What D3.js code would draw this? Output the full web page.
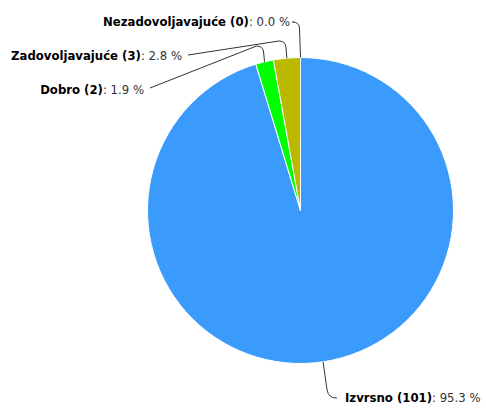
<!DOCTYPE html>
<html><head><meta charset="utf-8">
<script src="https://cdn.jsdelivr.net/npm/d3@7"></script>
<style>body{margin:0;background:#fff}svg{display:block}</style>
</head><body>
<script>
const categories = ["Izvrsno", "Dobro", "Zadovoljavajuće", "Nezadovoljavajuće"];
const counts = [101, 2, 3, 0];
const percents = [95.3, 1.9, 2.8, 0.0];
const colors = ["#3a9bfc", "#00ff00", "#bbb800", "#ff3b3b"];

const W = 486, H = 410;
const cx = 300.5, cy = 210.5, R = 153;
const svg = d3.select("body").append("svg").attr("width", W).attr("height", H);

const data = categories.map((c, i) => ({name: c, count: counts[i], pct: percents[i], color: colors[i]}));
const pie = d3.pie().sort(null).value(d => d.count);
const arcs = pie(data);
const arc = d3.arc().innerRadius(0).outerRadius(R);

const g = svg.append("g").attr("transform", `translate(${cx},${cy})`);
g.selectAll("path").data(arcs).join("path")
  .attr("d", arc).attr("fill", d => d.data.color)
  .attr("stroke", "#fff").attr("stroke-width", 1).attr("stroke-linejoin", "round");

// label layout (positions relative to SVG)
const labelLayout = {
  "Nezadovoljavajuće": {tx: 290, ty: 26, anchor: "end", bendY: 22, endX: 294, endY: 22},
  "Zadovoljavajuće": {tx: 182, ty: 60, anchor: "end", bendY: 41, endX: 188, endY: 55},
  "Dobro": {tx: 144, ty: 94, anchor: "end", bendY: 46, endX: 150, endY: 88},
  "Izvrsno": {tx: 345, ty: 402, anchor: "start", bendY: 398, endX: 337, endY: 398}
};

arcs.forEach(a => {
  const L = labelLayout[a.data.name];
  const mid = (a.startAngle + a.endAngle) / 2;
  const ex = cx + R * Math.sin(mid), ey = cy - R * Math.cos(mid);
  let p;
  if (L.anchor === "end") {
    const bx = ex - 1;
    p = `M${ex},${ey} L${bx},${L.bendY + 6} Q${bx - 0.5},${L.bendY} ${bx - 7},${L.bendY} L${L.endX},${L.endY}`;
  } else {
    p = `M${ex},${ey} L${ex + 4},${L.bendY - 8} Q${ex + 5.5},${L.bendY} ${ex + 13},${L.bendY} L${L.endX},${L.endY}`;
  }
  svg.append("path").attr("d", p).attr("fill", "none").attr("stroke", "#333").attr("stroke-width", 1);
  const t = svg.append("text").attr("x", L.tx).attr("y", L.ty).attr("text-anchor", L.anchor)
    .style("font-family", "'DejaVu Sans', Verdana, sans-serif").style("font-size", "11.7px").attr("fill", "#000");
  t.append("tspan").attr("font-weight", "bold").text(`${a.data.name} (${a.data.count})`);
  t.append("tspan").attr("fill", "#333").text(`: ${a.data.pct.toFixed(1)} %`);
});
</script>
</body></html>
